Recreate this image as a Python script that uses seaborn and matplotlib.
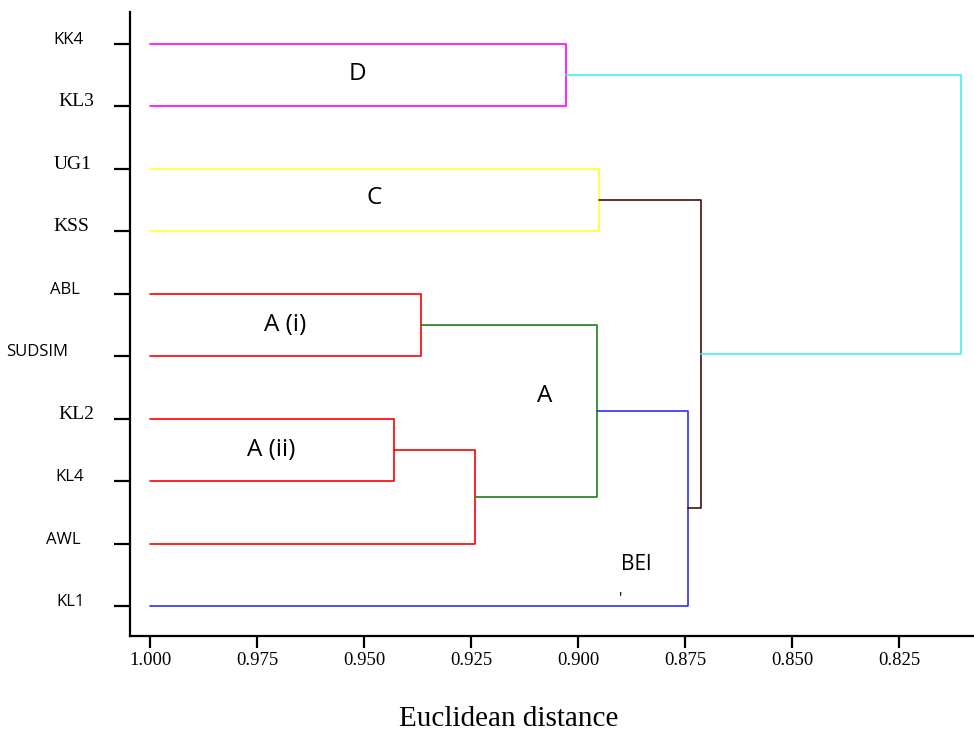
import pandas as pd
import numpy as np
import seaborn as sns
import matplotlib.pyplot as plt

# leaves from top to bottom
leaves = ['KK4', 'KL3', 'UG1', 'KSS', 'ABL', 'SUDSIM', 'KL2', 'KL4', 'AWL', 'KL1']
leaf_serif = [False, True, True, True, False, False, True, False, False, False]

# merges: n1..n9 in order
merge_left = ['KK4', 'UG1', 'ABL', 'KL2', 'n4', 'n3', 'n6', 'n2', 'n1']
merge_right = ['KL3', 'KSS', 'SUDSIM', 'KL4', 'AWL', 'n5', 'KL1', 'n7', 'n8']
merge_height = [0.9028, 0.8951, 0.9367, 0.9430, 0.9241, 0.8956, 0.8743, 0.8713, 0.8105]
merge_color = ['#ff00ff', '#ffff33', '#ff0000', '#ff0000', '#ff0000',
               '#1a801a', '#3030ee', '#4a0a0a', '#44f0f0']

xticks = [1.000, 0.975, 0.950, 0.925, 0.900, 0.875, 0.850, 0.825]

# cluster annotations
ann_text = ['D', 'C', 'A (i)', 'A (ii)', 'A', 'BEl']
ann_x = [0.9515, 0.9477, 0.9684, 0.9716, 0.9077, 0.8864]
ann_y = [8.52, 6.53, 4.5, 2.5, 3.36, 0.67]
ann_size = [17.5, 17.5, 17.5, 17.5, 17.5, 15]

# label centre in axes fraction (labels are not aligned in the original)
label_x = [-0.0735, -0.063, -0.0675, -0.069, -0.0765, -0.110, -0.063, -0.071, -0.0795, -0.071]

sns.set_style('ticks')
SANS = 'Open Sans'
SERIF = 'Liberation Serif'
plt.rcParams['font.family'] = [SERIF, 'DejaVu Serif']
plt.rcParams['text.color'] = 'black'
plt.rcParams['axes.edgecolor'] = 'black'
plt.rcParams['xtick.color'] = 'black'
plt.rcParams['ytick.color'] = 'black'

# build node positions and segments
ypos = {name: len(leaves) - 1 - i for i, name in enumerate(leaves)}
hpos = {name: 1.0 for name in leaves}
rows = []
for i, (l, r, h) in enumerate(zip(merge_left, merge_right, merge_height)):
    node = 'n%d' % (i + 1)
    pts = [(hpos[l], ypos[l]), (h, ypos[l]), (h, ypos[r]), (hpos[r], ypos[r])]
    for k, (px, py) in enumerate(pts):
        rows.append({'seg': node, 'order': k, 'x': px, 'y': py})
    ypos[node] = (ypos[l] + ypos[r]) / 2
    hpos[node] = h
df = pd.DataFrame(rows)
pal = {'n%d' % (i + 1): c for i, c in enumerate(merge_color)}

fig = plt.figure(figsize=(9.74, 7.34), dpi=100)
ax = fig.add_axes([130 / 974, 98 / 734, 844 / 974, 624 / 734])

sns.lineplot(data=df, x='x', y='y', hue='seg', units='seg', palette=pal,
             estimator=None, sort=False, legend=False, lw=1.2, ax=ax)

ax.set_xlim(1.0047, 0.8075)
ax.set_ylim(-0.48, 9.51)
sns.despine(ax=ax)
for s in ['left', 'bottom']:
    ax.spines[s].set_linewidth(1.6)
    ax.spines[s].set_color('black')

ax.set_xticks(xticks, labels=['%.3f' % v for v in xticks])
ax.tick_params(axis='x', length=8.5, width=1.6, pad=3, labelsize=13.5, colors='black')
ax.set_yticks([ypos[n] for n in leaves], labels=[''] * len(leaves))
ax.tick_params(axis='y', length=11.5, width=1.6, colors='black')
for lab in ax.get_xticklabels():
    lab.set_fontfamily(SERIF)
ax.set_xlabel('')
ax.set_ylabel('')

for name, serif, lx in zip(leaves, leaf_serif, label_x):
    ax.text(lx, ypos[name], name, transform=ax.get_yaxis_transform(),
            ha='center', va='baseline', clip_on=False, color='black',
            fontfamily=SERIF if serif else SANS,
            fontsize=14 if serif else 12)

for t, x, y, s in zip(ann_text, ann_x, ann_y, ann_size):
    ax.text(x, y, t, ha='center', va='center', fontfamily=SANS, fontsize=s, color='black')
ax.text(0.890, 0.12, "'", ha='center', va='center', fontfamily=SANS, fontsize=11, color='black')

fig.text(509 / 974, 8 / 734, 'Euclidean distance', ha='center', va='baseline',
         fontfamily=SERIF, fontsize=21, color='black')

fig.savefig('out.png', dpi=100)
